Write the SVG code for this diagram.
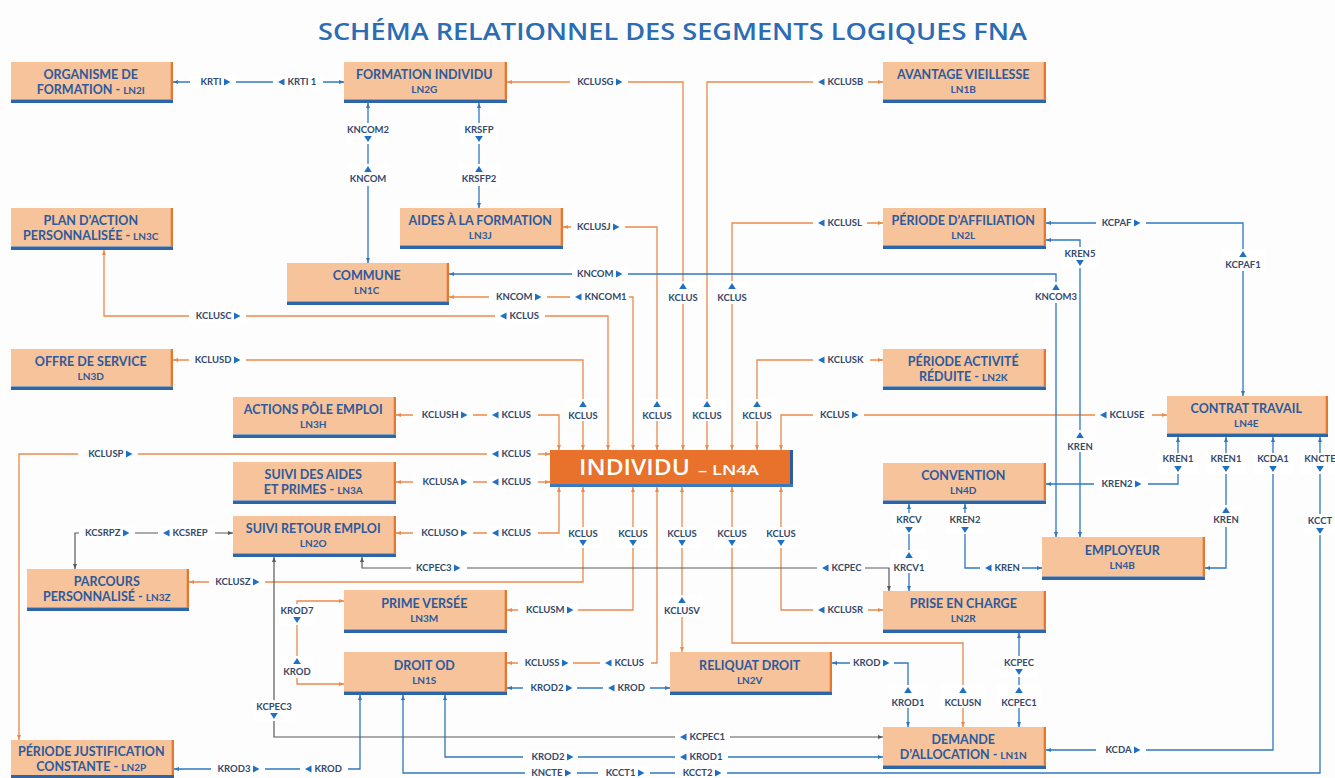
<svg xmlns="http://www.w3.org/2000/svg" xmlns:xlink="http://www.w3.org/1999/xlink" width="1335" height="778" viewBox="0 0 1335 778">
<style>
.nf{fill:#f7c39b}
.nr{fill:#e8772e}
.nb{fill:#2d65a9}
.t1{font-family:Lato,"Open Sans",sans-serif;font-weight:700;font-size:12.5px;fill:#2c5a9c;text-anchor:middle}
.t2{font-family:Lato,"Open Sans",sans-serif;font-weight:700;font-size:10px;fill:#2c5a9c;text-anchor:middle}
.sm{font-size:10px}
.b{fill:none;stroke:#2f78c0;stroke-width:1.3;marker-start:url(#ab);marker-end:url(#ab)}
.o{fill:none;stroke:#ec8a4c;stroke-width:1.3;marker-start:url(#ao);marker-end:url(#ao)}
.g{fill:none;stroke:#5a5a5a;stroke-width:1.2;marker-start:url(#ag);marker-end:url(#ag)}
.w{fill:#ffffff}
.L{font-family:Lato,"Open Sans",sans-serif;font-weight:700;font-size:9.5px;fill:#34496b}
.e{text-anchor:end}
.m{text-anchor:middle}
.tri{fill:#1f6fc2}
</style>
<defs>
<marker id="ab" viewBox="0 0 5 4" refX="5" refY="2" markerWidth="5" markerHeight="4" markerUnits="userSpaceOnUse" orient="auto-start-reverse"><path d="M0,0 L5,2 L0,4Z" fill="#2f78c0"/></marker>
<marker id="ao" viewBox="0 0 5 4" refX="5" refY="2" markerWidth="5" markerHeight="4" markerUnits="userSpaceOnUse" orient="auto-start-reverse"><path d="M0,0 L5,2 L0,4Z" fill="#ec8a4c"/></marker>
<marker id="ag" viewBox="0 0 5 4" refX="5" refY="2" markerWidth="5" markerHeight="4" markerUnits="userSpaceOnUse" orient="auto-start-reverse"><path d="M0,0 L5,2 L0,4Z" fill="#5a5a5a"/></marker>
<path id="tr" class="tri" d="M0,-3.5 L6.5,0 L0,3.5Z"/>
<path id="tl" class="tri" d="M6.5,-3.5 L0,0 L6.5,3.5Z"/>
<path id="tu" class="tri" d="M0,0 L3.8,6 L-3.8,6Z"/>
<path id="td" class="tri" d="M-3.8,0 L3.8,0 L0,6Z"/>
</defs>
<rect x="0" y="0" width="1335" height="778" fill="#fdfdfd"/>
<text x="318" y="40" font-family="'Open Sans',Lato,sans-serif" font-weight="600" font-size="24" fill="#2b6cb3" textLength="709" lengthAdjust="spacingAndGlyphs">SCHÉMA RELATIONNEL DES SEGMENTS LOGIQUES FNA</text>

<g id="connectors">
<path class="o" d="M507,82 H683 V450"/>
<path class="o" d="M883,82 H707 V450"/>
<path class="o" d="M883,223 H732 V450"/>
<path class="o" d="M563,227 H657 V450"/>
<path class="o" d="M883,360 H757 V450"/>
<path class="o" d="M1167,415 H781 V450"/>
<path class="o" d="M104,250 V316 H608 V450"/>
<path class="o" d="M173,360 H583 V450"/>
<path class="o" d="M449,297 H633 V450"/>
<path class="o" d="M396,415 H559 V450"/>
<path class="o" d="M550,454 H19 V740"/>
<path class="o" d="M396,482 H550"/>
<path class="o" d="M396,533 H559 V487"/>
<path class="o" d="M189,582 H583 V487"/>
<path class="o" d="M507,610 H633 V487"/>
<path class="o" d="M507,663 H657 V487"/>
<path class="o" d="M682,487 V652"/>
<path class="o" d="M732,487 V643 H963 V727"/>
<path class="o" d="M781,487 V610 H883"/>
<path class="o" d="M344,601 H297 V684 H344"/>
<path class="b" d="M173,82 H344"/>
<path class="b" d="M368,103 V263"/>
<path class="b" d="M479,103 V208"/>
<path class="b" d="M449,274 H1056 V537"/>
<path class="b" d="M1046,223 H1243 V396"/>
<path class="b" d="M1046,240 H1080 V537"/>
<path class="b" d="M1046,484 H1178 V437"/>
<path class="b" d="M1226,437 V568 H1205"/>
<path class="b" d="M1273,437 V750 H1046"/>
<path class="b" d="M1320,437 V773 H403 V695"/>
<path class="b" d="M360,695 V769 H174"/>
<path class="b" d="M445,695 V757 H883"/>
<path class="b" d="M507,688 H670"/>
<path class="b" d="M832,663 H908 V727"/>
<path class="b" d="M1019,633 V727"/>
<path class="b" d="M965,504 V568 H1042"/>
<path class="b" d="M909,504 V591"/>
<path class="g" d="M233,533 H75 V569"/>
<path class="g" d="M362,557 V568 H889 V591"/>
<path class="g" d="M274,557 V737 H883"/>
</g>

<g id="labels">
<rect class="w" x="190" y="76" width="46" height="12"/><text class="L e" x="221.5" y="85.4">KRTI</text><use href="#tr" x="224" y="82"/>
<rect class="w" x="273" y="76" width="50" height="12"/><use href="#tl" x="278" y="82"/><text class="L" x="287.5" y="85.4">KRTI 1</text>
<rect class="w" x="570" y="76" width="58" height="12"/><text class="L e" x="613.5" y="85.4">KCLUSG</text><use href="#tr" x="616" y="82"/>
<rect class="w" x="813" y="76" width="55" height="12"/><use href="#tl" x="818" y="82"/><text class="L" x="827.5" y="85.4">KCLUSB</text>
<rect class="w" x="571" y="221" width="54" height="12"/><text class="L e" x="610.5" y="230.4">KCLUSJ</text><use href="#tr" x="613" y="227"/>
<rect class="w" x="813" y="217" width="54" height="12"/><use href="#tl" x="818" y="223"/><text class="L" x="827.5" y="226.4">KCLUSL</text>
<rect class="w" x="1096" y="217" width="50" height="12"/><text class="L e" x="1131.5" y="226.4">KCPAF</text><use href="#tr" x="1134" y="223"/>
<rect class="w" x="572" y="268" width="56" height="12"/><text class="L e" x="613.5" y="277.4">KNCOM</text><use href="#tr" x="616" y="274"/>
<rect class="w" x="489" y="291" width="58" height="12"/><text class="L e" x="532.5" y="300.4">KNCOM</text><use href="#tr" x="535" y="297"/>
<rect class="w" x="570" y="291" width="59" height="12"/><use href="#tl" x="575" y="297"/><text class="L" x="584.5" y="300.4">KNCOM1</text>
<rect class="w" x="189" y="310" width="57" height="12"/><text class="L e" x="231.5" y="319.4">KCLUSC</text><use href="#tr" x="234" y="316"/>
<rect class="w" x="495" y="310" width="50" height="12"/><use href="#tl" x="500" y="316"/><text class="L" x="509.5" y="319.4">KCLUS</text>
<rect class="w" x="189" y="354" width="57" height="12"/><text class="L e" x="231.5" y="363.4">KCLUSD</text><use href="#tr" x="234" y="360"/>
<rect class="w" x="813" y="354" width="57" height="12"/><use href="#tl" x="818" y="360"/><text class="L" x="827.5" y="363.4">KCLUSK</text>
<rect class="w" x="413" y="409" width="60" height="12"/><text class="L e" x="458.5" y="418.4">KCLUSH</text><use href="#tr" x="461" y="415"/>
<rect class="w" x="487" y="409" width="51" height="12"/><use href="#tl" x="492" y="415"/><text class="L" x="501.5" y="418.4">KCLUS</text>
<rect class="w" x="813" y="409" width="51" height="12"/><text class="L e" x="849.5" y="418.4">KCLUS</text><use href="#tr" x="852" y="415"/>
<rect class="w" x="1095" y="409" width="57" height="12"/><use href="#tl" x="1100" y="415"/><text class="L" x="1109.5" y="418.4">KCLUSE</text>
<rect class="w" x="78" y="448" width="60" height="12"/><text class="L e" x="123.5" y="457.4">KCLUSP</text><use href="#tr" x="126" y="454"/>
<rect class="w" x="487" y="448" width="51" height="12"/><use href="#tl" x="492" y="454"/><text class="L" x="501.5" y="457.4">KCLUS</text>
<rect class="w" x="413" y="476" width="60" height="12"/><text class="L e" x="458.5" y="485.4">KCLUSA</text><use href="#tr" x="461" y="482"/>
<rect class="w" x="487" y="476" width="51" height="12"/><use href="#tl" x="492" y="482"/><text class="L" x="501.5" y="485.4">KCLUS</text>
<rect class="w" x="1094" y="478" width="54" height="12"/><text class="L e" x="1132.5" y="487.4">KREN2</text><use href="#tr" x="1135" y="484"/>
<rect class="w" x="79" y="527" width="56" height="12"/><text class="L e" x="120.5" y="536.4">KCSRPZ</text><use href="#tr" x="123" y="533"/>
<rect class="w" x="158" y="527" width="57" height="12"/><use href="#tl" x="163" y="533"/><text class="L" x="172.5" y="536.4">KCSREP</text>
<rect class="w" x="413" y="527" width="60" height="12"/><text class="L e" x="458.5" y="536.4">KCLUSO</text><use href="#tr" x="461" y="533"/>
<rect class="w" x="487" y="527" width="51" height="12"/><use href="#tl" x="492" y="533"/><text class="L" x="501.5" y="536.4">KCLUS</text>
<rect class="w" x="411" y="562" width="56" height="12"/><text class="L e" x="451.5" y="571.4">KCPEC3</text><use href="#tr" x="454" y="568"/>
<rect class="w" x="817" y="562" width="48" height="12"/><use href="#tl" x="822" y="568"/><text class="L" x="831.5" y="571.4">KCPEC</text>
<rect class="w" x="980" y="562" width="42" height="12"/><use href="#tl" x="985" y="568"/><text class="L" x="994.5" y="571.4">KREN</text>
<rect class="w" x="209" y="576" width="56" height="12"/><text class="L e" x="250.5" y="585.4">KCLUSZ</text><use href="#tr" x="253" y="582"/>
<rect class="w" x="518" y="604" width="60" height="12"/><text class="L e" x="564.5" y="613.4">KCLUSM</text><use href="#tr" x="567" y="610"/>
<rect class="w" x="813" y="604" width="55" height="12"/><use href="#tl" x="818" y="610"/><text class="L" x="827.5" y="613.4">KCLUSR</text>
<rect class="w" x="518" y="657" width="55" height="12"/><text class="L e" x="559.5" y="666.4">KCLUSS</text><use href="#tr" x="562" y="663"/>
<rect class="w" x="600" y="657" width="51" height="12"/><use href="#tl" x="605" y="663"/><text class="L" x="614.5" y="666.4">KCLUS</text>
<rect class="w" x="850" y="657" width="44" height="12"/><text class="L e" x="880.5" y="666.4">KROD</text><use href="#tr" x="883" y="663"/>
<rect class="w" x="523" y="682" width="54" height="12"/><text class="L e" x="563.5" y="691.4">KROD2</text><use href="#tr" x="566" y="688"/>
<rect class="w" x="603" y="682" width="47" height="12"/><use href="#tl" x="608" y="688"/><text class="L" x="617.5" y="691.4">KROD</text>
<rect class="w" x="675" y="731" width="55" height="12"/><use href="#tl" x="680" y="737"/><text class="L" x="689.5" y="740.4">KCPEC1</text>
<rect class="w" x="1096" y="744" width="50" height="12"/><text class="L e" x="1131.5" y="753.4">KCDA</text><use href="#tr" x="1134" y="750"/>
<rect class="w" x="523" y="751" width="55" height="12"/><text class="L e" x="564.5" y="760.4">KROD2</text><use href="#tr" x="567" y="757"/>
<rect class="w" x="675" y="751" width="53" height="12"/><use href="#tl" x="680" y="757"/><text class="L" x="689.5" y="760.4">KROD1</text>
<rect class="w" x="211" y="763" width="54" height="12"/><text class="L e" x="250.5" y="772.4">KROD3</text><use href="#tr" x="253" y="769"/>
<rect class="w" x="300" y="763" width="48" height="12"/><use href="#tl" x="305" y="769"/><text class="L" x="314.5" y="772.4">KROD</text>
<rect class="w" x="525" y="767" width="52" height="11"/><text class="L e" x="562.5" y="776.4">KNCTE</text><use href="#tr" x="565" y="773"/>
<rect class="w" x="598" y="767" width="52" height="11"/><text class="L e" x="635.5" y="776.4">KCCT1</text><use href="#tr" x="638" y="773"/>
<rect class="w" x="675" y="767" width="52" height="11"/><text class="L e" x="712.5" y="776.4">KCCT2</text><use href="#tr" x="715" y="773"/>

<rect class="w" x="347" y="123" width="42" height="21"/><text class="L m" x="368" y="133">KNCOM2</text><use href="#td" x="368" y="136"/>
<rect class="w" x="349" y="164" width="38" height="22"/><use href="#tu" x="368" y="166"/><text class="L m" x="368" y="182">KNCOM</text>
<rect class="w" x="461" y="123" width="36" height="21"/><text class="L m" x="479" y="133">KRSFP</text><use href="#td" x="479" y="136"/>
<rect class="w" x="458" y="164" width="42" height="22"/><use href="#tu" x="479" y="166"/><text class="L m" x="479" y="182">KRSFP2</text>
<rect class="w" x="1062" y="247" width="36" height="21"/><text class="L m" x="1080" y="257">KREN5</text><use href="#td" x="1080" y="260"/>
<rect class="w" x="1221" y="249" width="44" height="22"/><use href="#tu" x="1243" y="251"/><text class="L m" x="1243" y="268">KCPAF1</text>
<rect class="w" x="665" y="281" width="36" height="23"/><use href="#tu" x="683" y="283"/><text class="L m" x="683" y="301">KCLUS</text>
<rect class="w" x="714" y="281" width="36" height="23"/><use href="#tu" x="732" y="283"/><text class="L m" x="732" y="301">KCLUS</text>
<rect class="w" x="1034" y="282" width="44" height="21"/><use href="#tu" x="1056" y="284"/><text class="L m" x="1056" y="300">KNCOM3</text>
<rect class="w" x="565" y="399" width="36" height="22"/><use href="#tu" x="583" y="401"/><text class="L m" x="583" y="419">KCLUS</text>
<rect class="w" x="639" y="399" width="36" height="22"/><use href="#tu" x="657" y="401"/><text class="L m" x="657" y="419">KCLUS</text>
<rect class="w" x="689" y="399" width="36" height="22"/><use href="#tu" x="707" y="401"/><text class="L m" x="707" y="419">KCLUS</text>
<rect class="w" x="739" y="399" width="36" height="22"/><use href="#tu" x="757" y="401"/><text class="L m" x="757" y="419">KCLUS</text>
<rect class="w" x="1064" y="430" width="32" height="22"/><use href="#tu" x="1080" y="432"/><text class="L m" x="1080" y="450">KREN</text>
<rect class="w" x="1158" y="453" width="40" height="21"/><text class="L m" x="1178" y="462">KREN1</text><use href="#td" x="1178" y="466"/>
<rect class="w" x="1206" y="453" width="40" height="21"/><text class="L m" x="1226" y="462">KREN1</text><use href="#td" x="1226" y="466"/>
<rect class="w" x="1253" y="453" width="40" height="21"/><text class="L m" x="1273" y="462">KCDA1</text><use href="#td" x="1273" y="466"/>
<rect class="w" x="1300" y="453" width="40" height="21"/><text class="L m" x="1320" y="462">KNCTE</text><use href="#td" x="1320" y="466"/>
<rect class="w" x="1210" y="505" width="32" height="22"/><use href="#tu" x="1226" y="507"/><text class="L m" x="1226" y="523">KREN</text>
<rect class="w" x="1304" y="514" width="32" height="21"/><text class="L m" x="1320" y="524">KCCT</text><use href="#td" x="1320" y="528"/>
<rect class="w" x="893" y="513" width="32" height="21"/><text class="L m" x="909" y="523">KRCV</text><use href="#td" x="909" y="527"/>
<rect class="w" x="946" y="513" width="38" height="21"/><text class="L m" x="965" y="523">KREN2</text><use href="#td" x="965" y="527"/>
<rect class="w" x="891" y="550" width="36" height="23"/><use href="#tu" x="909" y="552"/><text class="L m" x="909" y="571">KRCV1</text>
<rect class="w" x="565" y="527" width="36" height="21"/><text class="L m" x="583" y="537">KCLUS</text><use href="#td" x="583" y="540"/>
<rect class="w" x="615" y="527" width="36" height="21"/><text class="L m" x="633" y="537">KCLUS</text><use href="#td" x="633" y="540"/>
<rect class="w" x="664" y="527" width="36" height="21"/><text class="L m" x="682" y="537">KCLUS</text><use href="#td" x="682" y="540"/>
<rect class="w" x="714" y="527" width="36" height="21"/><text class="L m" x="732" y="537">KCLUS</text><use href="#td" x="732" y="540"/>
<rect class="w" x="763" y="527" width="36" height="21"/><text class="L m" x="781" y="537">KCLUS</text><use href="#td" x="781" y="540"/>
<rect class="w" x="661" y="595" width="42" height="22"/><use href="#tu" x="682" y="597"/><text class="L m" x="682" y="614">KCLUSV</text>
<rect class="w" x="279" y="604" width="36" height="21"/><text class="L m" x="297" y="614">KROD7</text><use href="#td" x="297" y="617"/>
<rect class="w" x="281" y="656" width="32" height="22"/><use href="#tu" x="297" y="658"/><text class="L m" x="297" y="675">KROD</text>
<rect class="w" x="1000" y="656" width="38" height="21"/><text class="L m" x="1019" y="666">KCPEC</text><use href="#td" x="1019" y="669"/>
<rect class="w" x="889" y="685" width="38" height="23"/><use href="#tu" x="908" y="687"/><text class="L m" x="908" y="706">KROD1</text>
<rect class="w" x="941" y="685" width="44" height="23"/><use href="#tu" x="963" y="687"/><text class="L m" x="963" y="706">KCLUSN</text>
<rect class="w" x="997" y="685" width="44" height="23"/><use href="#tu" x="1019" y="687"/><text class="L m" x="1019" y="706">KCPEC1</text>
<rect class="w" x="253" y="700" width="42" height="21"/><text class="L m" x="274" y="710">KCPEC3</text><use href="#td" x="274" y="713"/>
</g>

<g id="n-ln2i"><rect class="nf" x="11" y="62" width="159.5" height="37.5"/><rect class="nr" x="170.5" y="62" width="2.5" height="37.5"/><rect class="nb" x="11" y="99.5" width="162" height="3.5"/><text class="t1" x="90.75" y="79">ORGANISME DE</text><text class="t1" x="90.75" y="93.5">FORMATION - <tspan class="sm">LN2I</tspan></text></g>
<g id="n-ln2g"><rect class="nf" x="344" y="62" width="160.5" height="37.5"/><rect class="nr" x="504.5" y="62" width="2.5" height="37.5"/><rect class="nb" x="344" y="99.5" width="163" height="3.5"/><text class="t1" x="424.25" y="79">FORMATION INDIVIDU</text><text class="t2" x="424.25" y="93">LN2G</text></g>
<g id="n-ln1b"><rect class="nf" x="883" y="62" width="160.5" height="37.5"/><rect class="nr" x="1043.5" y="62" width="2.5" height="37.5"/><rect class="nb" x="883" y="99.5" width="163" height="3.5"/><text class="t1" x="963.25" y="79">AVANTAGE VIEILLESSE</text><text class="t2" x="963.25" y="93">LN1B</text></g>
<g id="n-ln3c"><rect class="nf" x="11" y="208" width="159.5" height="38.5"/><rect class="nr" x="170.5" y="208" width="2.5" height="38.5"/><rect class="nb" x="11" y="246.5" width="162" height="3.5"/><text class="t1" x="90.75" y="225">PLAN D’ACTION</text><text class="t1" x="90.75" y="239.5">PERSONNALISÉE - <tspan class="sm">LN3C</tspan></text></g>
<g id="n-ln3j"><rect class="nf" x="400" y="208" width="160.5" height="37.5"/><rect class="nr" x="560.5" y="208" width="2.5" height="37.5"/><rect class="nb" x="400" y="245.5" width="163" height="3.5"/><text class="t1" x="480.25" y="225">AIDES À LA FORMATION</text><text class="t2" x="480.25" y="239">LN3J</text></g>
<g id="n-ln2l"><rect class="nf" x="883" y="208" width="160.5" height="37.5"/><rect class="nr" x="1043.5" y="208" width="2.5" height="37.5"/><rect class="nb" x="883" y="245.5" width="163" height="3.5"/><text class="t1" x="963.25" y="225">PÉRIODE D’AFFILIATION</text><text class="t2" x="963.25" y="239">LN2L</text></g>
<g id="n-ln1c"><rect class="nf" x="287" y="263" width="159.5" height="38.5"/><rect class="nr" x="446.5" y="263" width="2.5" height="38.5"/><rect class="nb" x="287" y="301.5" width="162" height="3.5"/><text class="t1" x="366.75" y="280">COMMUNE</text><text class="t2" x="366.75" y="294">LN1C</text></g>
<g id="n-ln3d"><rect class="nf" x="11" y="349" width="159.5" height="37.5"/><rect class="nr" x="170.5" y="349" width="2.5" height="37.5"/><rect class="nb" x="11" y="386.5" width="162" height="3.5"/><text class="t1" x="90.75" y="366">OFFRE DE SERVICE</text><text class="t2" x="90.75" y="380">LN3D</text></g>
<g id="n-ln2k"><rect class="nf" x="883" y="349" width="160.5" height="37.5"/><rect class="nr" x="1043.5" y="349" width="2.5" height="37.5"/><rect class="nb" x="883" y="386.5" width="163" height="3.5"/><text class="t1" x="963.25" y="366">PÉRIODE ACTIVITÉ</text><text class="t1" x="963.25" y="380.5">RÉDUITE - <tspan class="sm">LN2K</tspan></text></g>
<g id="n-ln3h"><rect class="nf" x="233" y="397" width="160.5" height="37.5"/><rect class="nr" x="393.5" y="397" width="2.5" height="37.5"/><rect class="nb" x="233" y="434.5" width="163" height="3.5"/><text class="t1" x="313.25" y="414">ACTIONS PÔLE EMPLOI</text><text class="t2" x="313.25" y="428">LN3H</text></g>
<g id="n-ln4e"><rect class="nf" x="1167" y="396" width="158.5" height="37.5"/><rect class="nr" x="1325.5" y="396" width="2.5" height="37.5"/><rect class="nb" x="1167" y="433.5" width="161" height="3.5"/><text class="t1" x="1246.25" y="413">CONTRAT TRAVAIL</text><text class="t2" x="1246.25" y="427">LN4E</text></g>
<g id="n-ln4a"><rect x="550" y="450" width="240" height="34" fill="#e8712b"/><rect x="790" y="450" width="3" height="34" fill="#2b5c9e"/><rect x="550" y="484" width="243" height="3" fill="#3a78c0"/><text x="579" y="475" font-family="'Open Sans',Lato,sans-serif" font-weight="600" font-size="21" fill="#ffffff" textLength="111" lengthAdjust="spacingAndGlyphs">INDIVIDU</text><text x="698" y="475" font-family="'Open Sans',Lato,sans-serif" font-weight="600" font-size="14" fill="#ffffff" textLength="61" lengthAdjust="spacingAndGlyphs">– LN4A</text></g>
<g id="n-ln3a"><rect class="nf" x="233" y="462" width="160.5" height="38.5"/><rect class="nr" x="393.5" y="462" width="2.5" height="38.5"/><rect class="nb" x="233" y="500.5" width="163" height="3.5"/><text class="t1" x="313.25" y="479">SUIVI DES AIDES</text><text class="t1" x="313.25" y="493.5">ET PRIMES - <tspan class="sm">LN3A</tspan></text></g>
<g id="n-ln4d"><rect class="nf" x="883" y="463" width="160.5" height="37.5"/><rect class="nr" x="1043.5" y="463" width="2.5" height="37.5"/><rect class="nb" x="883" y="500.5" width="163" height="3.5"/><text class="t1" x="963.25" y="480">CONVENTION</text><text class="t2" x="963.25" y="494">LN4D</text></g>
<g id="n-ln2o"><rect class="nf" x="233" y="516" width="160.5" height="37.5"/><rect class="nr" x="393.5" y="516" width="2.5" height="37.5"/><rect class="nb" x="233" y="553.5" width="163" height="3.5"/><text class="t1" x="313.25" y="533">SUIVI RETOUR EMPLOI</text><text class="t2" x="313.25" y="547">LN2O</text></g>
<g id="n-ln4b"><rect class="nf" x="1042" y="537" width="160.5" height="39.5"/><rect class="nr" x="1202.5" y="537" width="2.5" height="39.5"/><rect class="nb" x="1042" y="576.5" width="163" height="3.5"/><text class="t1" x="1122.25" y="555">EMPLOYEUR</text><text class="t2" x="1122.25" y="569">LN4B</text></g>
<g id="n-ln3z"><rect class="nf" x="27" y="569" width="159.5" height="38.5"/><rect class="nr" x="186.5" y="569" width="2.5" height="38.5"/><rect class="nb" x="27" y="607.5" width="162" height="3.5"/><text class="t1" x="106.75" y="586">PARCOURS</text><text class="t1" x="106.75" y="600.5">PERSONNALISÉ - <tspan class="sm">LN3Z</tspan></text></g>
<g id="n-ln3m"><rect class="nf" x="344" y="590" width="160.5" height="39.5"/><rect class="nr" x="504.5" y="590" width="2.5" height="39.5"/><rect class="nb" x="344" y="629.5" width="163" height="3.5"/><text class="t1" x="424.25" y="608">PRIME VERSÉE</text><text class="t2" x="424.25" y="622">LN3M</text></g>
<g id="n-ln2r"><rect class="nf" x="883" y="591" width="160.5" height="38.5"/><rect class="nr" x="1043.5" y="591" width="2.5" height="38.5"/><rect class="nb" x="883" y="629.5" width="163" height="3.5"/><text class="t1" x="963.25" y="608">PRISE EN CHARGE</text><text class="t2" x="963.25" y="622">LN2R</text></g>
<g id="n-ln1s"><rect class="nf" x="344" y="652" width="160.5" height="39.5"/><rect class="nr" x="504.5" y="652" width="2.5" height="39.5"/><rect class="nb" x="344" y="691.5" width="163" height="3.5"/><text class="t1" x="424.25" y="670">DROIT OD</text><text class="t2" x="424.25" y="684">LN1S</text></g>
<g id="n-ln2v"><rect class="nf" x="670" y="652" width="159.5" height="39.5"/><rect class="nr" x="829.5" y="652" width="2.5" height="39.5"/><rect class="nb" x="670" y="691.5" width="162" height="3.5"/><text class="t1" x="749.75" y="670">RELIQUAT DROIT</text><text class="t2" x="749.75" y="684">LN2V</text></g>
<g id="n-ln1n"><rect class="nf" x="883" y="727" width="160.5" height="38.5"/><rect class="nr" x="1043.5" y="727" width="2.5" height="38.5"/><rect class="nb" x="883" y="765.5" width="163" height="3.5"/><text class="t1" x="963.25" y="744">DEMANDE</text><text class="t1" x="963.25" y="758.5">D’ALLOCATION - <tspan class="sm">LN1N</tspan></text></g>
<g id="n-ln2p"><rect class="nf" x="11" y="740" width="160.5" height="37"/><rect class="nr" x="171.5" y="740" width="2.5" height="37"/><rect class="nb" x="11" y="775" width="163" height="3"/><text class="t1" x="91.25" y="756">PÉRIODE JUSTIFICATION</text><text class="t1" x="91.25" y="770.5">CONSTANTE - <tspan class="sm">LN2P</tspan></text></g>
</svg>
